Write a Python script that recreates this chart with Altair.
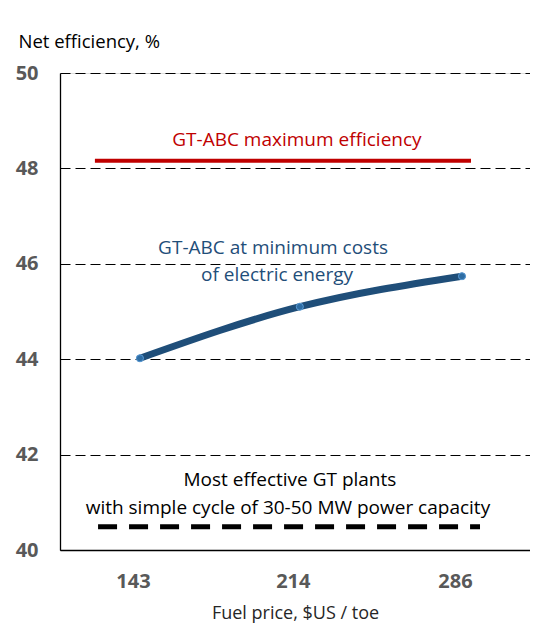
import altair as alt
import pandas as pd

# Data
fuel_price = [143, 214, 286]
eff_min_cost = [44.02, 45.1, 45.74]

max_eff_x = [123, 290]
max_eff_y = [48.16, 48.16]

simple_x = [124.4, 294]
simple_y = [40.49, 40.49]

ann_text = ["GT-ABC maximum efficiency", "GT-ABC at minimum costs", "of electric energy",
            "Most effective GT plants", "with simple cycle of 30-50 MW power capacity"]
ann_x = [212.7, 202.1, 203.9, 209.6, 208.7]
ann_y = [48.6, 46.33, 45.77, 41.47, 40.88]
ann_group = ["red", "blue", "blue", "black", "black"]

FONT = "Open Sans"

xscale = alt.Scale(domain=[107.5, 316.2], nice=False, zero=False)
yscale = alt.Scale(domain=[40, 50], nice=False, zero=False)

df_line = pd.DataFrame({"x": fuel_price, "y": eff_min_cost})
df_red = pd.DataFrame({"x": max_eff_x, "y": max_eff_y})
df_black = pd.DataFrame({"x": simple_x, "y": simple_y})
df_ann = pd.DataFrame({"x": ann_x, "y": ann_y, "text": ann_text, "g": ann_group})

base_x = alt.X("x:Q", scale=xscale,
               axis=alt.Axis(values=fuel_price, title="Fuel price, $US / toe",
                             grid=False, ticks=False, domain=True, domainColor="black",
                             domainWidth=1.3, labelFont=FONT, labelFontSize=20,
                             labelFontWeight="bold", labelColor="#595959",
                             labelPadding=21, labelOffset=-7, titleFont=FONT,
                             titleFontSize=18, titleFontWeight="normal",
                             titleColor="#262626", titlePadding=13))
base_y = alt.Y("y:Q", scale=yscale,
               axis=alt.Axis(values=[40, 42, 44, 46, 48, 50], title="Net efficiency, %",
                             grid=True, gridColor="black", gridDash=[10, 5], gridWidth=1.2,
                             ticks=False, domain=True, domainColor="black", domainWidth=1.3,
                             labelFont=FONT, labelFontSize=20, labelFontWeight="bold",
                             labelColor="#595959", labelPadding=22,
                             titleFont=FONT, titleFontSize=18.5, titleFontWeight="normal",
                             titleColor="black", titleAngle=0, titleAlign="left",
                             titleBaseline="alphabetic", titleX=-42, titleY=-26))

line = alt.Chart(df_line).mark_line(color="#1f4e79", strokeWidth=7, interpolate="natural",
                                     strokeCap="round").encode(x=base_x, y=base_y)
pts = alt.Chart(df_line).mark_point(filled=True, size=50, color="#2e6da4", opacity=1,
                                     stroke="#5b9bd5", strokeWidth=1).encode(x="x:Q", y="y:Q")
red = alt.Chart(df_red).mark_line(color="#c00000", strokeWidth=4).encode(x="x:Q", y="y:Q")
black = alt.Chart(df_black).mark_line(color="black", strokeWidth=5, strokeDash=[19, 12]).encode(
    x="x:Q", y="y:Q")
text = alt.Chart(df_ann).mark_text(font=FONT, fontSize=19, align="center",
                                    baseline="middle").encode(
    x="x:Q", y="y:Q", text="text:N",
    color=alt.Color("g:N", scale=alt.Scale(domain=["red", "blue", "black"],
                                           range=["#c00000", "#1f4e79", "black"]),
                    legend=None))

chart = alt.layer(line, red, black, pts, text).properties(
    width=470, height=477,
    autosize=alt.AutoSizeParams(type="none"),
    padding={"left": 52, "top": 65, "right": 0, "bottom": 76},
).configure_view(stroke=None).configure(background="white")

chart.save("out.html", embed_options={"renderer": "svg", "actions": False})
